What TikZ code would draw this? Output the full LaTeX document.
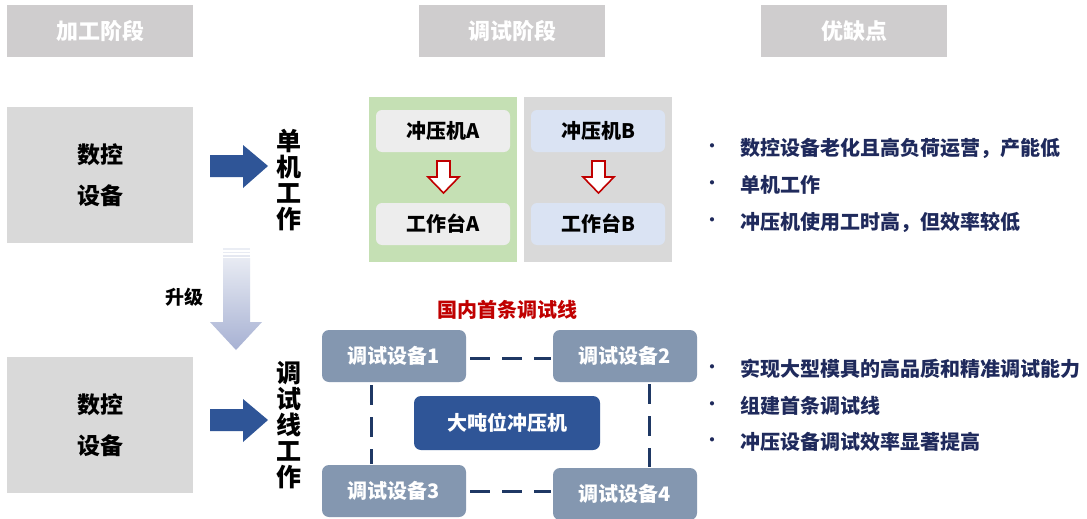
\documentclass[tikz,border=0pt]{standalone}
\usepackage{fontspec}
\newfontfamily\cjk{Noto Sans CJK SC}
\setmainfont{Noto Sans CJK SC}
\definecolor{hdr}{HTML}{CFCDCE}
\definecolor{lgray}{HTML}{D9D9D9}
\definecolor{pgreen}{HTML}{C5E0B4}
\definecolor{boxA}{HTML}{EDEDED}
\definecolor{boxB}{HTML}{DAE3F3}
\definecolor{dblue}{HTML}{2F5597}
\definecolor{sblue}{HTML}{8497B0}
\definecolor{navy}{HTML}{1F3864}
\definecolor{txt}{HTML}{1F2A5C}
\definecolor{red1}{HTML}{C00000}
\definecolor{gtop}{HTML}{E8EBF3}
\definecolor{gbot}{HTML}{A7B1D3}
\tikzset{
  hdrbox/.style={fill=hdr, draw=none, minimum width=186pt, minimum height=52pt, inner sep=0pt, text=white, font=\cjk\bfseries\fontsize{22}{24}\selectfont},
  leftbox/.style={fill=lgray, draw=none, minimum width=186pt, minimum height=136pt, inner sep=0pt, align=center, font=\cjk\bfseries\fontsize{23}{41}\selectfont},
  panel/.style={draw=none, minimum width=148pt, minimum height=165pt, inner sep=0pt},
  machbox/.style={rounded corners=6pt, draw=none, minimum width=134pt, minimum height=42pt, inner sep=0pt, font=\cjk\bfseries\fontsize{20}{22}\selectfont},
  devbox/.style={rounded corners=7pt, fill=sblue, draw=none, minimum width=144pt, minimum height=52pt, inner sep=0pt, text=white, font=\cjk\bfseries\fontsize{20}{22}\selectfont},
  vtext/.style={align=center, font=\cjk\bfseries\fontsize{25}{26}\selectfont, inner sep=0pt},
  bullet/.style={anchor=west, text=txt, font=\cjk\bfseries\fontsize{20}{22}\selectfont, inner sep=0pt},
  bulletdot/.style={anchor=center, text=txt, font=\cjk\bfseries\fontsize{15}{16}\selectfont, inner sep=0pt},
  dashline/.style={draw=navy, line width=3pt, dash pattern=on 20pt off 12pt},
  bluearrow/.style={fill=dblue, draw=none},
  redarrow/.style={fill=white, draw=red1, line width=1.6pt},
}
\begin{document}
\begin{tikzpicture}[x=1pt,y=-1pt]
\useasboundingbox (0,0) rectangle (1087,519);
\fill[white] (0,0) rectangle (1087,519);

% headers
\node[hdrbox] (h1) at (100,31) {加工阶段};
\node[hdrbox] (h2) at (512,31) {调试阶段};
\node[hdrbox] (h3) at (854,31) {优缺点};

% left boxes
\node[leftbox] (l1) at (100,175) {数控\\设备};
\node[leftbox] (l2) at (100,425) {数控\\设备};

% blue arrows
\fill[bluearrow] (210,155) -- (243,155) -- (243,145) -- (268,166) -- (243,188) -- (243,177) -- (210,177) -- cycle;
\fill[bluearrow] (210,409) -- (243,409) -- (243,399) -- (268,420) -- (243,442) -- (243,431) -- (210,431) -- cycle;

% vertical texts
\node[vtext] (v1) at (289,180) {单\\机\\工\\作};
\node[vtext] (v2) at (289,425) {调\\试\\线\\工\\作};

% upgrade arrow
\shade[top color=gtop, bottom color=gbot] (223,258) -- (250,258) -- (250,322) -- (262,322) -- (236,350) -- (210,322) -- (223,322) -- cycle;
\fill[gtop!90!white] (223,248) rectangle (250,249.5);
\fill[gtop] (223,251.5) rectangle (250,253);
\fill[gtop!95!gbot] (223,255) rectangle (250,256.5);
\node[font=\cjk\bfseries\fontsize{19}{20}\selectfont, inner sep=0pt] (up) at (184,297) {升级};

% panels
\node[panel, fill=pgreen] (pa) at (443,179.5) {};
\node[panel, fill=lgray] (pb) at (598,179.5) {};
\node[machbox, fill=boxA] (ma) at (443,131) {冲压机A};
\node[machbox, fill=boxA] (ta) at (443,224) {工作台A};
\node[machbox, fill=boxB] (mb) at (598,131) {冲压机B};
\node[machbox, fill=boxB] (tb) at (598,224) {工作台B};
\draw[redarrow] (437,161) -- (450,161) -- (450,177) -- (459,177) -- (443.5,193) -- (428,177) -- (437,177) -- cycle;
\draw[redarrow] (592,161) -- (605,161) -- (605,177) -- (614,177) -- (598.5,193) -- (583,177) -- (592,177) -- cycle;

% line
\node[text=red1, font=\cjk\bfseries\fontsize{20}{22}\selectfont, inner sep=0pt] (title) at (507,310) {国内首条调试线};
\node[devbox] (d1) at (394,356) {调试设备1};
\node[devbox] (d2) at (625,356) {调试设备2};
\node[devbox] (d3) at (394,491) {调试设备3};
\node[devbox] (d4) at (625,494) {调试设备4};
\node[rounded corners=7pt, fill=dblue, minimum width=186pt, minimum height=54pt, inner sep=0pt, text=white, font=\cjk\bfseries\fontsize{20}{22}\selectfont] (big) at (507,423) {大吨位冲压机};
\draw[dashline] (d1.east |- 0,358) ++(4,0) -- ([xshift=-2pt]d2.west |- 0,358);
\draw[dashline] ([xshift=4pt]d3.east) -- ([xshift=-2pt]d3.east -| d4.west);
\draw[dashline] (371,385) -- (371,464);
\draw[dashline] (649,384) -- (649,467);

% bullets
\foreach \t/\y [count=\i] in {数控设备老化且高负荷运营，产能低/148, 单机工作/185, 冲压机使用工时高，但效率较低/222, 实现大型模具的高品质和精准调试能力/369, 组建首条调试线/406, 冲压设备调试效率显著提高/442}{
  \node[bulletdot] (b\i) at (712,\y) {•};
  \node[bullet] (t\i) at (740,\y) {\t};
}
\end{tikzpicture}
\end{document}
